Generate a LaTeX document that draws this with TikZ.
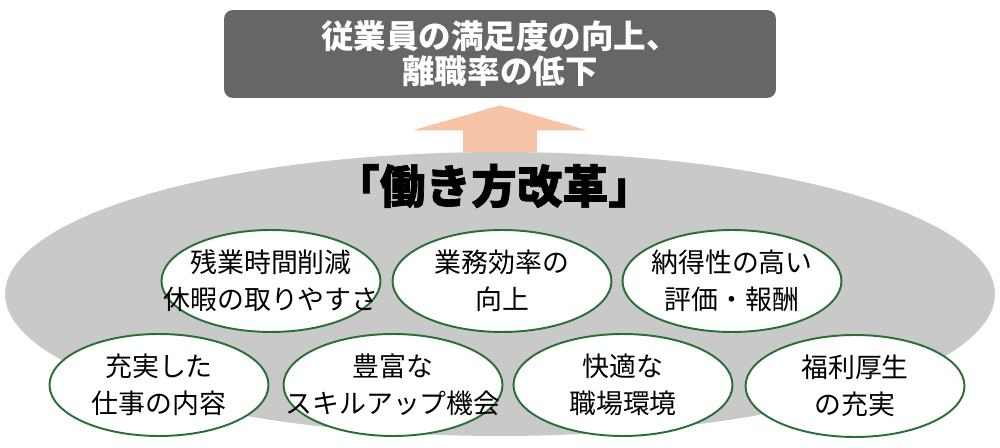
\documentclass[tikz,border=0pt]{standalone}
\usepackage{fontspec}
\newfontfamily\jp{Noto Sans CJK JP}
\newfontfamily\jpheavy[BoldFeatures={FakeBold=1.5}]{Noto Sans CJK JP}
\usetikzlibrary{arrows.meta,shapes.geometric}
\definecolor{goalgray}{HTML}{666666}
\definecolor{basegray}{HTML}{C9C9C9}
\definecolor{arrowpink}{HTML}{F7C3A7}
\definecolor{itemgreen}{HTML}{2A6E35}

\begin{document}
\begin{tikzpicture}[x=0.02cm,y=-0.02cm,every node/.style={font=\jp},
  goal/.style={fill=goalgray,rounded corners=5pt,minimum width=11.04cm,minimum height=1.76cm,inner sep=0pt,
    text=white,align=center,font=\jp\bfseries\fontsize{18.5pt}{19.8pt}\selectfont},
  base/.style={ellipse,fill=basegray,minimum width=19.8cm,minimum height=5.68cm,inner sep=0pt},
  item/.style={ellipse,draw=itemgreen,line width=1.1pt,fill=white,minimum width=4.38cm,minimum height=2.04cm,inner sep=0pt},
  itemtext/.style={align=center,inner sep=0pt,font=\jp\fontsize{15.3pt}{21pt}\selectfont},
  uparrow/.style={draw=arrowpink,line width=1.48cm,-{Triangle[width=3.48cm,length=0.5cm]}}]
\useasboundingbox (0,0) rectangle (1000,448);
% base and goal
\node[base] (big) at (500,294) {};
\node[goal] (top) at (500,54) {従業員の満足度の向上、\\離職率の低下};
\draw[uparrow] (big.north) -- ([yshift=-0.14cm]top.south);
\node[font=\jpheavy\bfseries\fontsize{26pt}{28pt}\selectfont] (title) at (494,186) {「働き方改革」};
% items
\node[item] (e1) at (271,281) {};
\node[item] (e2) at (502,281) {};
\node[item] (e3) at (732,281) {};
\node[item] (e4) at (159,385) {};
\node[item] (e5) at (393,385) {};
\node[item] (e6) at (623,385) {};
\node[item] (e7) at (855,386) {};
\node[itemtext] (t1) at (e1) {残業時間削減\\休暇の取りやすさ};
\node[itemtext] (t2) at (e2) {業務効率の\\向上};
\node[itemtext] (t3) at (e3) {納得性の高い\\評価・報酬};
\node[itemtext] (t4) at (e4) {充実した\\仕事の内容};
\node[itemtext] (t5) at (e5) {豊富な\\スキルアップ機会};
\node[itemtext] (t6) at (e6) {快適な\\職場環境};
\node[itemtext] (t7) at (e7) {福利厚生\\の充実};
\end{tikzpicture}
\end{document}
